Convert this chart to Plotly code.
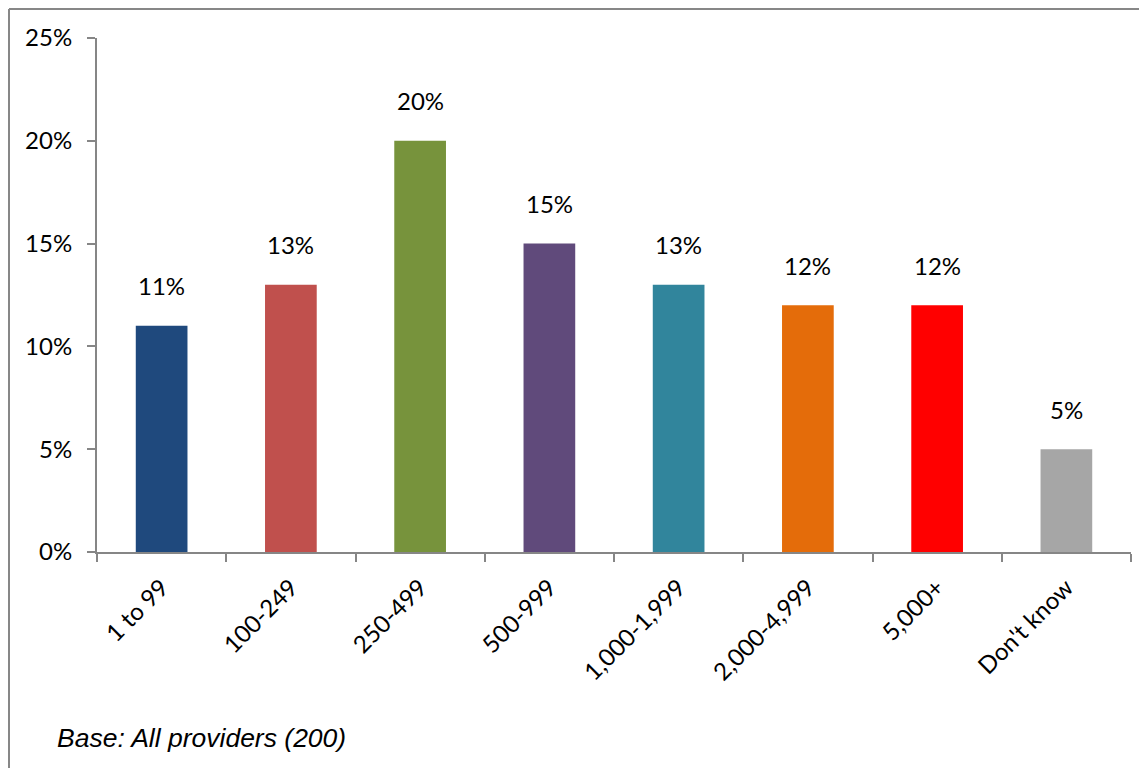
import plotly.graph_objects as go

categories = ["1 to 99", "100-249", "250-499", "500-999", "1,000-1,999", "2,000-4,999", "5,000+", "Don't know"]
values = [11, 13, 20, 15, 13, 12, 12, 5]
colors = ["#1F497D", "#C0504D", "#77933C", "#604A7B", "#31859C", "#E46C0A", "#FF0000", "#A6A6A6"]
y_ticks = [0, 5, 10, 15, 20, 25]
y_tick_labels = ["0%", "5%", "10%", "15%", "20%", "25%"]
footnote = "Base: All providers (200)"

OFF = 8  # default page body margin (on every side)
W, H = 1147 - 2 * OFF, 776 - 2 * OFF
L, T = 97 - OFF, 38 - OFF
pw, ph = 1034, 514
R, B = W - L - pw, H - T - ph


def px_x(wx):
    return (wx - OFF - L) / pw


def px_y(wy):
    return (T + ph - (wy - OFF)) / ph


fig = go.Figure()
fig.add_trace(go.Bar(
    x=categories, y=values, marker=dict(color=colors, line=dict(width=0)),
    width=0.4, showlegend=False, hoverinfo="x+y",
))

for c, v in zip(categories, values):
    fig.add_annotation(x=c, y=v, xref="x", yref="y", text=f"{v}%", showarrow=False,
                       yshift=40, font=dict(family="Lato", size=24, color="#000000"))

fig.add_annotation(x=px_x(55), y=px_y(738), xref="paper", yref="paper",
                   xanchor="left", yanchor="middle", text=f"<i>{footnote}</i>", showarrow=False,
                   font=dict(family="Liberation Sans", size=26.5, color="#000000"))

# outer frame: only the left and top edges fall inside the picture
frame = dict(color="#878787", width=2)
fig.add_shape(type="line", xref="paper", yref="paper",
              x0=px_x(9), x1=px_x(9), y0=px_y(9), y1=px_y(800), line=frame, layer="below")
fig.add_shape(type="line", xref="paper", yref="paper",
              x0=px_x(9), x1=px_x(1160), y0=px_y(9), y1=px_y(9), line=frame, layer="below")

fig.update_layout(
    width=W, height=H,
    margin=dict(l=L, r=R, t=T, b=B),
    paper_bgcolor="white", plot_bgcolor="white",
    font=dict(family="Lato", size=24, color="#000000"),
)
fig.update_xaxes(
    type="category", tickson="boundaries", ticks="outside", ticklen=8, tickcolor="#868686",
    showline=True, linecolor="#868686", linewidth=2, tickwidth=2, showgrid=False,
    tickangle=-45, ticklabelstandoff=10, tickfont=dict(family="Lato", size=24, color="#000000"),
)
fig.update_yaxes(
    range=[0, 25], tickvals=y_ticks, ticktext=y_tick_labels, ticks="outside", ticklen=8,
    tickcolor="#868686", tickwidth=2, showline=True, linecolor="#868686", linewidth=2,
    showgrid=False, zeroline=False, ticklabelstandoff=10,
    tickfont=dict(family="Lato", size=24, color="#000000"),
)

fig.write_html("out.html")
